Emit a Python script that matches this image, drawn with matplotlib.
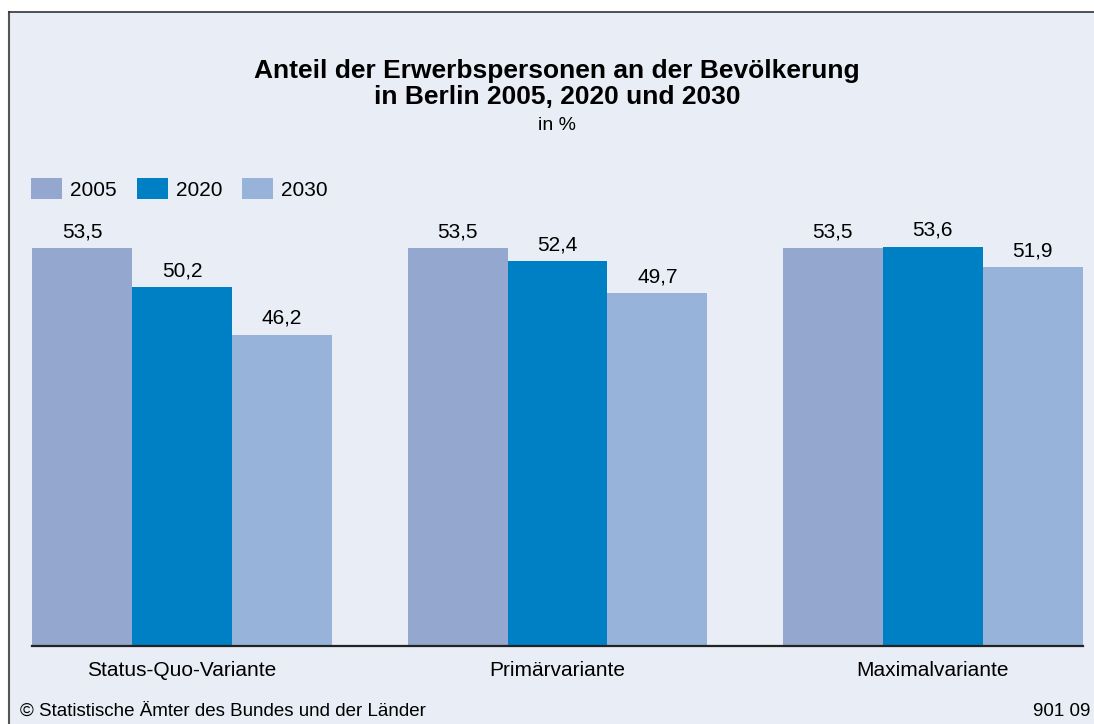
import matplotlib
matplotlib.use("Agg")
import matplotlib.pyplot as plt
from matplotlib.lines import Line2D
import numpy as np

plt.rcParams['font.family'] = ['Liberation Sans', 'DejaVu Sans']

categories = ["Status-Quo-Variante", "Primärvariante", "Maximalvariante"]
series_names = ["2005", "2020", "2030"]
values_2005 = [53.5, 53.5, 53.5]
values_2020 = [50.2, 52.4, 53.6]
values_2030 = [46.2, 49.7, 51.9]
series_values = [values_2005, values_2020, values_2030]
colors = ["#94A7CF", "#0080C4", "#97B3DA"]

title_line1 = "Anteil der Erwerbspersonen an der Bevölkerung"
title_line2 = "in Berlin 2005, 2020 und 2030"
subtitle = "in %"
source = "© Statistische Ämter des Bundes und der Länder"
code = "901 09"

W, H = 1094, 724
fig = plt.figure(figsize=(W / 100, H / 100), dpi=100)
fig.patch.set_facecolor("white")

# background panel with border on left/top
bg = plt.Rectangle((8.5 / W, 0), 1 - 8.5 / W, 1 - 11.5 / H, transform=fig.transFigure,
                   facecolor="#E9EDF6", edgecolor="none", zorder=-5)
fig.patches.append(bg)
fig.add_artist(Line2D([8.5 / W, 8.5 / W], [0, 1 - 11.5 / H], transform=fig.transFigure,
                      color="#555555", lw=1.5, zorder=-4))
fig.add_artist(Line2D([8.5 / W, 1], [1 - 11.5 / H, 1 - 11.5 / H], transform=fig.transFigure,
                      color="#333333", lw=1.2, zorder=-4))

ax_left, ax_right = 32 / W, 1083 / W
ax_bottom, ax_top = 1 - 646 / H, 1 - 200 / H
ax = fig.add_axes([ax_left, ax_bottom, ax_right - ax_left, ax_top - ax_bottom])
ax.set_zorder(2)
ax.set_facecolor("none")

x = np.arange(len(categories))
width = 0.2663
for i, (name, vals, col) in enumerate(zip(series_names, series_values, colors)):
    pos = x + (i - 1) * width
    bars = ax.bar(pos, vals, width=width, color=col, label=name, zorder=2)
    for b, v in zip(bars, vals):
        ax.annotate(f"{v:.1f}".replace(".", ","), (b.get_x() + b.get_width() / 2, v),
                    xytext=(0, 5), textcoords="offset points", ha="center", va="bottom",
                    fontsize=15, color="black")

ax.set_xlim(-0.4, 2.4)
ax.set_ylim(20, 20 + 446 / 11.88)
for s in ["top", "right", "left"]:
    ax.spines[s].set_visible(False)
ax.spines["bottom"].set_color("#222222")
ax.spines["bottom"].set_linewidth(1.6)
ax.spines["bottom"].set_zorder(3)
ax.set_yticks([])
ax.set_xticks(x)
ax.set_xticklabels(categories, fontsize=15)
ax.tick_params(axis="x", length=0, pad=11)

leg = ax.legend(loc="upper left", bbox_to_anchor=(31 / W, 1 - 178 / H),
                bbox_transform=fig.transFigure, ncol=3, frameon=False, fontsize=15,
                handlelength=1.49, handleheight=1.2, handletextpad=0.38,
                columnspacing=0.96, borderpad=0, borderaxespad=0)

fig.text(557 / W, 1 - 71 / H, title_line1, ha="center", va="center", fontsize=19,
         fontweight="bold")
fig.text(557 / W, 1 - 97 / H, title_line2, ha="center", va="center", fontsize=19,
         fontweight="bold")
fig.text(557 / W, 1 - 126 / H, subtitle, ha="center", va="center", fontsize=14)
fig.text(20 / W, 1 - 711 / H, source, ha="left", va="center", fontsize=13.5)
fig.text(1090 / W, 1 - 711 / H, code, ha="right", va="center", fontsize=13.5)

fig.savefig("out.png", dpi=100, facecolor=fig.get_facecolor())
